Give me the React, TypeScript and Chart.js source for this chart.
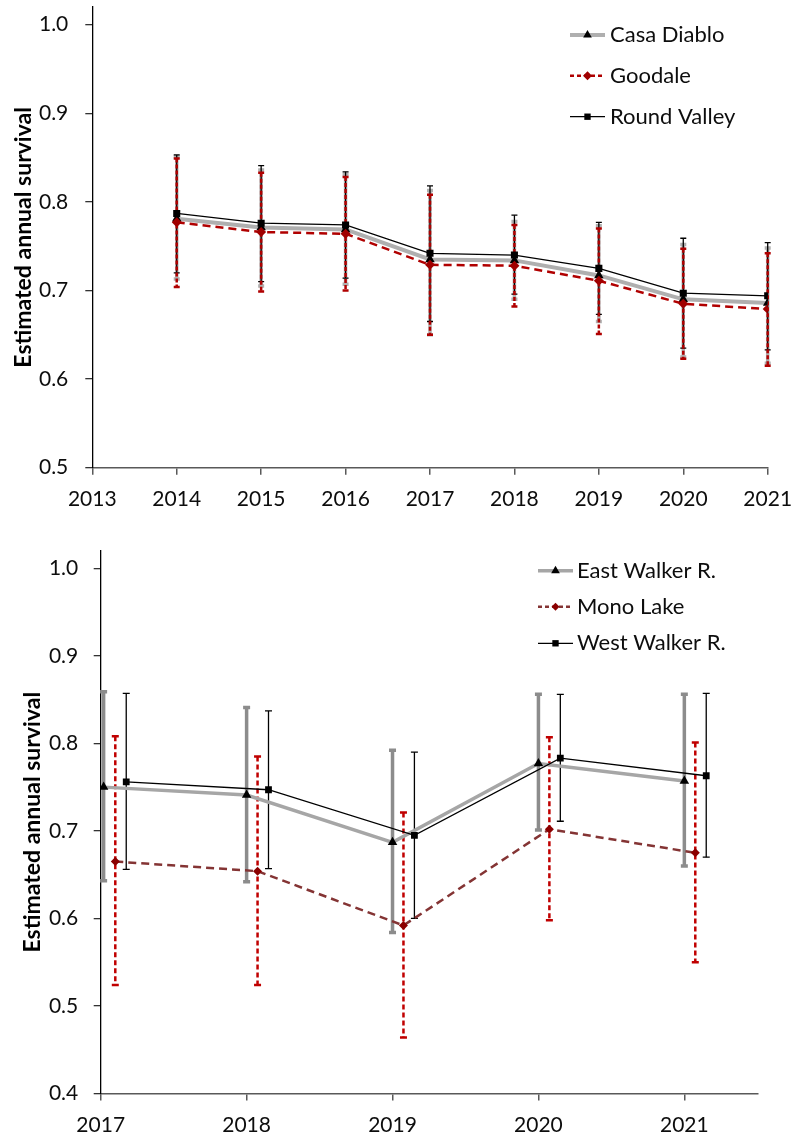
import React, { useEffect, useRef } from 'react';
import { Chart, registerables } from 'chart.js';

Chart.register(...registerables);

const FONT = 'Lato, "Open Sans", sans-serif';
const TITLE = 'Estimated annual survival';

// ---------- Top chart data ----------
const topYears = [2014, 2015, 2016, 2017, 2018, 2019, 2020, 2021];
const topXTicks = [2013, 2014, 2015, 2016, 2017, 2018, 2019, 2020, 2021];
const topYTicks = [0.5, 0.6, 0.7, 0.8, 0.9, 1.0];
const casaDiablo = [0.781, 0.771, 0.769, 0.735, 0.734, 0.717, 0.690, 0.686];
const casaDiabloLow = [0.713, 0.705, 0.707, 0.650, 0.690, 0.665, 0.625, 0.618];
const casaDiabloHigh = [0.851, 0.836, 0.831, 0.813, 0.778, 0.773, 0.752, 0.748];
const goodale = [0.777, 0.766, 0.764, 0.729, 0.728, 0.711, 0.685, 0.679];
const goodaleLow = [0.704, 0.699, 0.700, 0.650, 0.682, 0.651, 0.623, 0.615];
const goodaleHigh = [0.849, 0.833, 0.828, 0.808, 0.774, 0.770, 0.747, 0.742];
const roundValley = [0.787, 0.776, 0.774, 0.742, 0.740, 0.725, 0.697, 0.694];
const roundValleyLow = [0.720, 0.710, 0.714, 0.665, 0.696, 0.673, 0.635, 0.633];
const roundValleyHigh = [0.853, 0.841, 0.834, 0.818, 0.785, 0.777, 0.759, 0.754];

// ---------- Bottom chart data ----------
const bottomXTicks = [2017, 2018, 2019, 2020, 2021];
const bottomYTicks = [0.4, 0.5, 0.6, 0.7, 0.8, 0.9, 1.0];
const eastWalkerX = [2017.02, 2018, 2019, 2020, 2021];
const eastWalker = [0.750, 0.741, 0.687, 0.777, 0.757];
const eastWalkerLow = [0.643, 0.642, 0.584, 0.701, 0.660];
const eastWalkerHigh = [0.859, 0.841, 0.792, 0.856, 0.856];
const monoLakeX = [2017.1, 2018.075, 2019.075, 2020.075, 2021.075];
const monoLake = [0.665, 0.654, 0.592, 0.702, 0.675];
const monoLakeLow = [0.524, 0.524, 0.464, 0.598, 0.550];
const monoLakeHigh = [0.808, 0.785, 0.721, 0.807, 0.801];
const westWalkerX = [2017.175, 2018.15, 2019.15, 2020.15, 2021.15];
const westWalker = [0.756, 0.747, 0.695, 0.783, 0.763];
const westWalkerLow = [0.656, 0.657, 0.600, 0.711, 0.670];
const westWalkerHigh = [0.857, 0.837, 0.790, 0.856, 0.857];

type Series = {
  label: string;
  xs: number[];
  ys: number[];
  low: number[];
  high: number[];
  lineColor: string;
  lineWidth: number;
  dash: number[];
  marker: string;
  markerColor: string;
  markerR: number;
  legendR: number;
  errColor: string;
  errWidth: number;
  errDash: number[];
  order: number;
};

function drawMarker(ctx: CanvasRenderingContext2D, style: string, x: number, y: number, r: number, color: string) {
  ctx.save();
  ctx.setLineDash([]);
  ctx.fillStyle = color;
  ctx.beginPath();
  if (style === 'triangle') {
    ctx.moveTo(x, y - r);
    ctx.lineTo(x + r * 0.866, y + r * 0.5);
    ctx.lineTo(x - r * 0.866, y + r * 0.5);
  } else if (style === 'rect') {
    const s = r * Math.SQRT1_2;
    ctx.rect(x - s, y - s, 2 * s, 2 * s);
  } else {
    ctx.moveTo(x, y - r);
    ctx.lineTo(x + r, y);
    ctx.lineTo(x, y + r);
    ctx.lineTo(x - r, y);
  }
  ctx.closePath();
  ctx.fill();
  ctx.restore();
}

function makeErrorBarPlugin(series: Series[], drawOrder: number[], cap: number) {
  return {
    id: 'errorBars',
    beforeDatasetsDraw(chart: any) {
      const { ctx } = chart;
      const xs = chart.scales.x;
      const ys = chart.scales.y;
      ctx.save();
      drawOrder.forEach((si) => {
        const s = series[si];
        ctx.strokeStyle = s.errColor;
        ctx.lineWidth = s.errWidth;
        ctx.lineCap = 'butt';
        s.xs.forEach((xv, i) => {
          const px = xs.getPixelForValue(xv);
          const pl = ys.getPixelForValue(s.low[i]);
          const ph = ys.getPixelForValue(s.high[i]);
          ctx.setLineDash(s.errDash);
          ctx.beginPath();
          ctx.moveTo(px, ph);
          ctx.lineTo(px, pl);
          ctx.stroke();
          ctx.setLineDash([]);
          ctx.beginPath();
          ctx.moveTo(px - cap, ph);
          ctx.lineTo(px + cap, ph);
          ctx.moveTo(px - cap, pl);
          ctx.lineTo(px + cap, pl);
          ctx.stroke();
        });
      });
      ctx.restore();
    },
  };
}

function makeLegendPlugin(series: Series[], x0: number, len: number, textX: number, rows: number[]) {
  return {
    id: 'customLegend',
    afterDraw(chart: any) {
      const { ctx } = chart;
      ctx.save();
      series.forEach((s, i) => {
        const y = rows[i];
        ctx.strokeStyle = s.lineColor;
        ctx.lineWidth = s.lineWidth;
        ctx.setLineDash(s.dash.length ? [4, 3] : []);
        ctx.beginPath();
        ctx.moveTo(x0, y);
        ctx.lineTo(x0 + len, y);
        ctx.stroke();
        drawMarker(ctx, s.marker, x0 + len / 2, y, s.legendR, s.markerColor);
        ctx.setLineDash([]);
        ctx.fillStyle = '#0d0d0d';
        ctx.font = `22px ${FONT}`;
        ctx.textBaseline = 'middle';
        ctx.textAlign = 'left';
        ctx.fillText(s.label, textX, y);
      });
      ctx.restore();
    },
  };
}

type PanelSpec = {
  width: number;
  height: number;
  series: Series[];
  errOrder: number[];
  cap: number;
  xMin: number;
  xMax: number;
  yMin: number;
  yMax: number;
  xTicks: number[];
  yTicks: number[];
  yAxisWidth: number;
  xAxisHeight: number;
  padding: { left: number; right: number; top: number; bottom: number };
  titlePad: number;
  yTickPad: number;
  legend: { x0: number; len: number; textX: number; rows: number[] };
};

function zeroPad(axis: any) {
  axis.paddingTop = 0;
  axis.paddingBottom = 0;
  axis.paddingLeft = 0;
  axis.paddingRight = 0;
}

function buildConfig(p: PanelSpec): any {
  return {
    type: 'line',
    data: {
      datasets: p.series.map((s) => ({
        label: s.label,
        data: s.xs.map((x, i) => ({ x, y: s.ys[i] })),
        borderColor: s.lineColor,
        borderWidth: s.lineWidth,
        borderDash: s.dash,
        pointStyle: s.marker,
        pointRadius: s.markerR,
        pointBackgroundColor: s.markerColor,
        pointBorderColor: s.markerColor,
        pointBorderWidth: 0,
        tension: 0,
        fill: false,
        order: s.order,
      })),
    },
    options: {
      responsive: false,
      animation: false,
      events: [],
      layout: { padding: p.padding },
      plugins: {
        legend: { display: false },
        tooltip: { enabled: false },
      },
      scales: {
        x: {
          type: 'linear',
          min: p.xMin,
          max: p.xMax,
          border: { display: true, color: '#595959', width: 1.5 },
          grid: {
            display: true,
            drawOnChartArea: false,
            drawTicks: true,
            tickLength: 7,
            color: '#595959',
            lineWidth: 1.5,
          },
          ticks: {
            autoSkip: false,
            maxRotation: 0,
            minRotation: 0,
            padding: 12,
            color: '#0d0d0d',
            font: { family: FONT, size: 21 },
            callback: (v: any) => String(v),
          },
          afterBuildTicks: (axis: any) => {
            axis.ticks = p.xTicks.map((v) => ({ value: v }));
          },
          afterFit: (axis: any) => {
            axis.height = p.xAxisHeight;
            zeroPad(axis);
          },
        },
        y: {
          type: 'linear',
          min: p.yMin,
          max: p.yMax,
          border: { display: true, color: '#000', width: 1.3 },
          grid: {
            display: true,
            drawOnChartArea: false,
            drawTicks: true,
            tickLength: 7,
            color: '#333',
            lineWidth: 1.3,
          },
          ticks: {
            padding: p.yTickPad,
            color: '#0d0d0d',
            font: { family: FONT, size: 21 },
            callback: (v: any) => Number(v).toFixed(1),
          },
          afterBuildTicks: (axis: any) => {
            axis.ticks = p.yTicks.map((v) => ({ value: v }));
          },
          title: {
            display: true,
            text: TITLE,
            color: '#000',
            font: { family: FONT, size: 23, weight: 'bold' },
            padding: { top: p.titlePad, bottom: 0 },
          },
          afterFit: (axis: any) => {
            axis.width = p.yAxisWidth;
            zeroPad(axis);
          },
        },
      },
    },
    plugins: [
      makeErrorBarPlugin(p.series, p.errOrder, p.cap),
      makeLegendPlugin(p.series, p.legend.x0, p.legend.len, p.legend.textX, p.legend.rows),
    ],
  };
}

const topSeries: Series[] = [
  {
    label: 'Casa Diablo', xs: topYears, ys: casaDiablo, low: casaDiabloLow, high: casaDiabloHigh,
    lineColor: '#AFAFAF', lineWidth: 4, dash: [], marker: 'triangle', markerColor: '#000', markerR: 5.5, legendR: 5,
    errColor: '#AFAFAF', errWidth: 3.5, errDash: [], order: 2,
  },
  {
    label: 'Goodale', xs: topYears, ys: goodale, low: goodaleLow, high: goodaleHigh,
    lineColor: '#B00000', lineWidth: 2.5, dash: [8, 5], marker: 'rectRot', markerColor: '#A00000', markerR: 5, legendR: 4.5,
    errColor: '#B00000', errWidth: 2.5, errDash: [4, 2], order: 1,
  },
  {
    label: 'Round Valley', xs: topYears, ys: roundValley, low: roundValleyLow, high: roundValleyHigh,
    lineColor: '#000', lineWidth: 1.3, dash: [], marker: 'rect', markerColor: '#000', markerR: 5, legendR: 4.5,
    errColor: '#000', errWidth: 1.3, errDash: [], order: 0,
  },
];

const bottomSeries: Series[] = [
  {
    label: 'East Walker R.', xs: eastWalkerX, ys: eastWalker, low: eastWalkerLow, high: eastWalkerHigh,
    lineColor: '#A6A6A6', lineWidth: 3.5, dash: [], marker: 'triangle', markerColor: '#000', markerR: 5.5, legendR: 5,
    errColor: '#8C8C8C', errWidth: 3.5, errDash: [], order: 2,
  },
  {
    label: 'Mono Lake', xs: monoLakeX, ys: monoLake, low: monoLakeLow, high: monoLakeHigh,
    lineColor: '#843434', lineWidth: 2.5, dash: [8, 5], marker: 'rectRot', markerColor: '#8B0000', markerR: 4.5, legendR: 4,
    errColor: '#C00000', errWidth: 2.5, errDash: [5, 3], order: 1,
  },
  {
    label: 'West Walker R.', xs: westWalkerX, ys: westWalker, low: westWalkerLow, high: westWalkerHigh,
    lineColor: '#000', lineWidth: 1.3, dash: [], marker: 'rect', markerColor: '#000', markerR: 4.8, legendR: 4.5,
    errColor: '#000', errWidth: 1.3, errDash: [], order: 0,
  },
];

const topSpec: PanelSpec = {
  width: 794, height: 530, series: topSeries, errOrder: [0, 2, 1], cap: 3,
  xMin: 2013, xMax: 2021, yMin: 0.5, yMax: 1.02,
  xTicks: topXTicks, yTicks: topYTicks,
  yAxisWidth: 92.3, xAxisHeight: 50,
  padding: { left: 0, right: 26.3, top: 7, bottom: 12.3 },
  titlePad: 10, yTickPad: 17,
  legend: { x0: 570, len: 35, textX: 610, rows: [35, 75.7, 116.7] },
};

const bottomSpec: PanelSpec = {
  width: 794, height: 599, series: bottomSeries, errOrder: [0, 2, 1], cap: 3.5,
  xMin: 2017, xMax: 2021.5, yMin: 0.4, yMax: 1.02,
  xTicks: bottomXTicks, yTicks: bottomYTicks,
  yAxisWidth: 100.7, xAxisHeight: 44,
  padding: { left: 0, right: 36.7, top: 10.7, bottom: 1.4 },
  titlePad: 19, yTickPad: 15.5,
  legend: { x0: 538, len: 35, textX: 577, rows: [30.7, 66.7, 103.3] },
};

function Panel({ spec, top }: { spec: PanelSpec; top: number }) {
  const ref = useRef<HTMLCanvasElement | null>(null);
  useEffect(() => {
    if (!ref.current) return;
    const chart = new Chart(ref.current, buildConfig(spec));
    return () => chart.destroy();
  }, [spec]);
  return (
    <canvas
      ref={ref}
      width={spec.width}
      height={spec.height}
      style={{ position: 'absolute', left: 0, top, width: spec.width, height: spec.height, display: 'block' }}
    />
  );
}

export default function App() {
  return (
    <div style={{ position: 'absolute', left: 0, top: 0, width: 794, height: 1139, background: '#fff', overflow: 'hidden' }}>
      <Panel spec={topSpec} top={0} />
      <Panel spec={bottomSpec} top={540} />
    </div>
  );
}
